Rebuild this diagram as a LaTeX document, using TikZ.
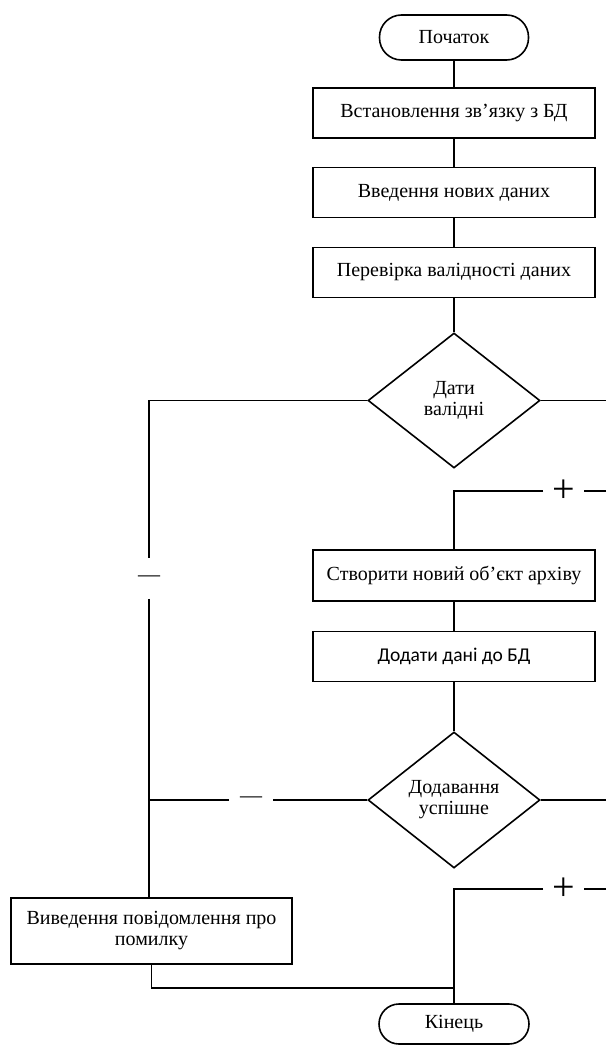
\documentclass[tikz,border=0pt]{standalone}
\usepackage{fontspec}
\setmainfont{Liberation Serif}
\newfontfamily\calibri{Carlito}
\usetikzlibrary{shapes.geometric}
\begin{document}
\begin{tikzpicture}[x=1pt,y=-1pt,line width=1.6pt,
  txt/.style={font=\fontsize{20}{21}\selectfont},
  box/.style={txt,draw,rectangle,minimum width=282pt,minimum height=50pt,inner sep=2pt,align=center},
  term/.style={txt,draw,rectangle,rounded corners=22pt,minimum width=149pt,minimum height=45pt,inner sep=2pt},
  dec/.style={txt,draw,diamond,minimum width=172pt,minimum height=135pt,inner sep=0pt,align=center},
  minuslbl/.style={inner sep=0pt,font=\fontsize{22}{22}\selectfont},
  pluslbl/.style={inner sep=0pt,minimum width=39pt,minimum height=18pt,font=\fontsize{40}{40}\selectfont}
]
\useasboundingbox (0,0) rectangle (606,1046);

\node[term] (start) at (454,37.5) {Початок};
\node[box] (b1) at (454,113) {Встановлення зв’язку з БД};
\node[box] (b2) at (454,192.5) {Введення нових даних};
\node[box] (b3) at (454,272.5) {Перевірка валідності даних};
\node[dec] (d1) at (454,400.5) {Дати\\валідні};
\node[box,minimum height=51pt] (create) at (454,575.5) {Створити новий об’єкт архіву};
\node[box,font=\calibri\fontsize{19.5}{21}\selectfont] (add) at (454,656.5) {Додати дані до БД};
\node[dec,minimum height=136pt] (d2) at (454,800) {Додавання\\успішне};
\node[box,minimum width=281pt,minimum height=66pt] (err) at (151.5,931) {Виведення повідомлення про\\помилку};
\node[term,minimum height=40pt,rounded corners=20pt,minimum width=150pt] (end) at (454,1024) {Кінець};

\node[minuslbl,minimum height=39pt] (minus1) at (149,578.5) {—};
\node[minuslbl,minimum width=42pt] (minus2) at (251,800) {—};
\node[pluslbl] (plus1) at (563.5,491) {+};
\node[pluslbl] (plus2) at (563.5,889) {+};

\coordinate (r1) at (606,400.5);
\coordinate (r2) at (606,491);
\coordinate (r3) at (606,800);
\coordinate (r4) at (606,889);
\coordinate (join) at (454,988);

\draw (start) -- (b1);
\draw (b1) -- (b2);
\draw (b2) -- (b3);
\draw (b3) -- (d1);
\draw (d1) -- (r1);
\draw (r2) -- (plus1);
\draw (plus1) -| (create);
\draw (create) -- (add);
\draw (add) -- (d2);
\draw (d2) -- (r3);
\draw (r4) -- (plus2);
\draw (plus2) -| (end);
\draw (d1) -| (minus1);
\draw (minus1) -- (minus1 |- err.north);
\draw (d2) -- (minus2);
\draw (minus2) -- (minus2 -| minus1);
\draw (err) |- (join);
\end{tikzpicture}
\end{document}
